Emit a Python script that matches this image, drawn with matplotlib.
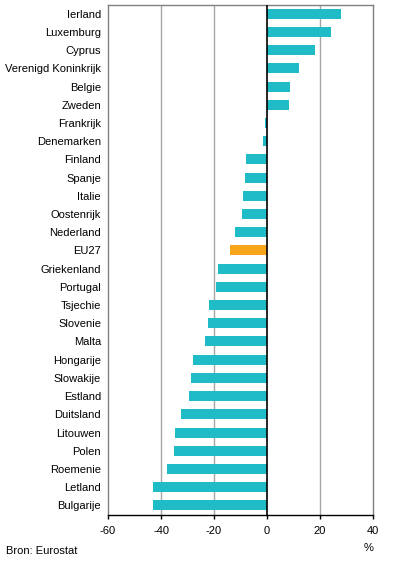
import matplotlib
matplotlib.use('Agg')
import matplotlib.pyplot as plt

plt.rcParams['font.family'] = ['Liberation Sans', 'DejaVu Sans']

# landen van boven naar onder
landen = ['Ierland', 'Luxemburg', 'Cyprus', 'Verenigd Koninkrijk', 'Belgie', 'Zweden',
          'Frankrijk', 'Denemarken', 'Finland', 'Spanje', 'Italie', 'Oostenrijk',
          'Nederland', 'EU27', 'Griekenland', 'Portugal', 'Tsjechie', 'Slovenie',
          'Malta', 'Hongarije', 'Slowakije', 'Estland', 'Duitsland', 'Litouwen',
          'Polen', 'Roemenie', 'Letland', 'Bulgarije']
waarden = [27.8, 24.0, 18.0, 11.9, 8.6, 8.2, -0.7, -1.6, -8.1, -8.4, -9.2, -9.6,
           -12.2, -14.1, -18.6, -19.4, -22.0, -22.4, -23.5, -28.1, -28.8, -29.6,
           -32.6, -34.8, -35.2, -37.9, -43.1, -43.1]
xticks = [-60, -40, -20, 0, 20, 40]

teal = '#1FBBC6'
oranje = '#F8A51C'
kleuren = [oranje if l == 'EU27' else teal for l in landen]

fig = plt.figure(figsize=(3.96, 5.84), dpi=100)
ax = fig.add_axes([108 / 396, 1 - 515 / 584, (373 - 108) / 396, (515 - 5) / 584])

pos = list(range(len(landen)))
ax.barh(pos, waarden, height=0.55, color=kleuren, zorder=3)
ax.set_ylim(len(landen) - 0.47, -0.48)
ax.set_xlim(-60, 40)

ax.set_yticks(pos)
ax.set_yticklabels(landen, fontsize=8)
ax.tick_params(axis='y', length=0, pad=5)
ax.set_xticks(xticks)
ax.set_xticklabels([str(t) for t in xticks], fontsize=8)
ax.tick_params(axis='x', length=3, width=1, pad=5)

for t in [-40, -20, 20]:
    ax.axvline(t, color='#A6A6A6', lw=1, zorder=1)
ax.axvline(0, color='black', lw=1.2, zorder=4)

for s in ['left', 'top', 'right']:
    ax.spines[s].set_color('#808080')
    ax.spines[s].set_linewidth(1)
ax.spines['bottom'].set_color('black')
ax.spines['bottom'].set_linewidth(1)

fig.text(369 / 396, 1 - 548 / 584, '%', fontsize=8, ha='center', va='center')
fig.text(6 / 396, 1 - 551 / 584, 'Bron: Eurostat', fontsize=8, ha='left', va='center')

fig.savefig('out.png', dpi=100)
